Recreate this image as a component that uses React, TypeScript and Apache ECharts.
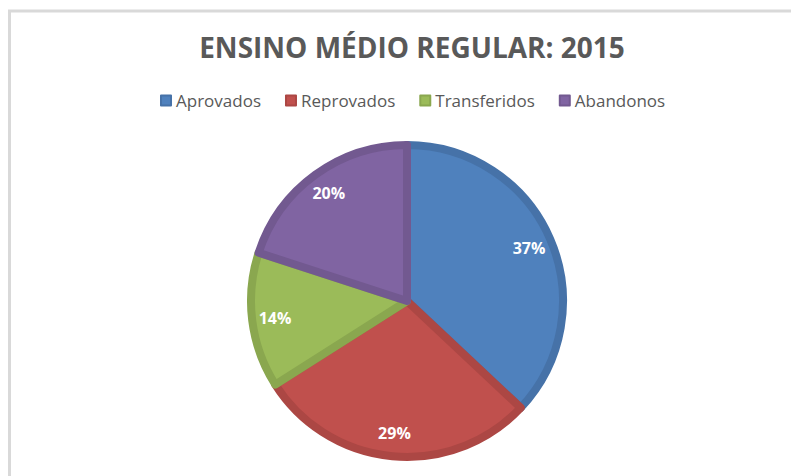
import React, { useEffect, useRef } from "react";
import * as echarts from "echarts";

const TITLE = "ENSINO MÉDIO REGULAR: 2015";
const categories = ["Aprovados", "Reprovados", "Transferidos", "Abandonos"];
const values = [37, 29, 14, 20];
const fillColors = ["#4F81BD", "#C0504D", "#9BBB59", "#8064A2"];
const borderColors = ["#4672A8", "#AC4744", "#8AA74F", "#725990"];

const FONT = "'Open Sans', Lato, sans-serif";

export default function App() {
  const ref = useRef<HTMLDivElement>(null);
  useEffect(() => {
    document.body.style.margin = "0";
    const chart = echarts.init(ref.current!, null, { renderer: "svg" });
    const cx = 407;
    const cy = 301;
    const R = 160;
    chart.setOption({
      animation: false,
      backgroundColor: "#ffffff",
      title: {
        text: TITLE,
        left: cx,
        top: 28,
        textAlign: "center",
        textStyle: {
          fontFamily: FONT,
          fontWeight: "bold",
          fontSize: 28,
          color: "#595959",
        },
      },
      legend: {
        data: categories,
        left: 155,
        top: 87,
        icon: "rect",
        itemWidth: 10,
        itemHeight: 10,
        itemGap: 24,
        textStyle: { fontFamily: FONT, fontSize: 17, color: "#595959", padding: [0, 0, 0, 0] },
      },
      graphic: [
        {
          type: "rect",
          shape: { x: 9.5, y: 11, width: 900, height: 600 },
          style: { fill: "none", stroke: "#d9d9d9", lineWidth: 3 },
          silent: true,
          z: -10,
        },
      ],
      series: [
        {
          type: "pie",
          center: [cx, cy],
          radius: [0, R - 4],
          startAngle: 90,
          clockwise: true,
          silent: true,
          label: { show: false },
          labelLine: { show: false },
          data: categories.map((name, i) => ({
            name,
            value: values[i],
            itemStyle: {
              color: fillColors[i],
              borderColor: borderColors[i],
              borderWidth: 8,
              borderJoin: "round",
            },
          })),
        },
        {
          type: "pie",
          center: [cx, cy],
          radius: [100, R],
          startAngle: 90,
          clockwise: true,
          silent: true,
          z: 5,
          itemStyle: { color: "transparent", borderWidth: 0 },
          label: {
            show: true,
            position: "inside",
            formatter: "{c}%",
            fontFamily: FONT,
            fontWeight: "bold",
            fontSize: 16,
            color: "#ffffff",
          },
          labelLine: { show: false },
          data: categories.map((name, i) => ({ name, value: values[i] })),
        },
      ],
    });
    return () => chart.dispose();
  }, []);
  return <div ref={ref} style={{ width: 791, height: 476 }} />;
}
